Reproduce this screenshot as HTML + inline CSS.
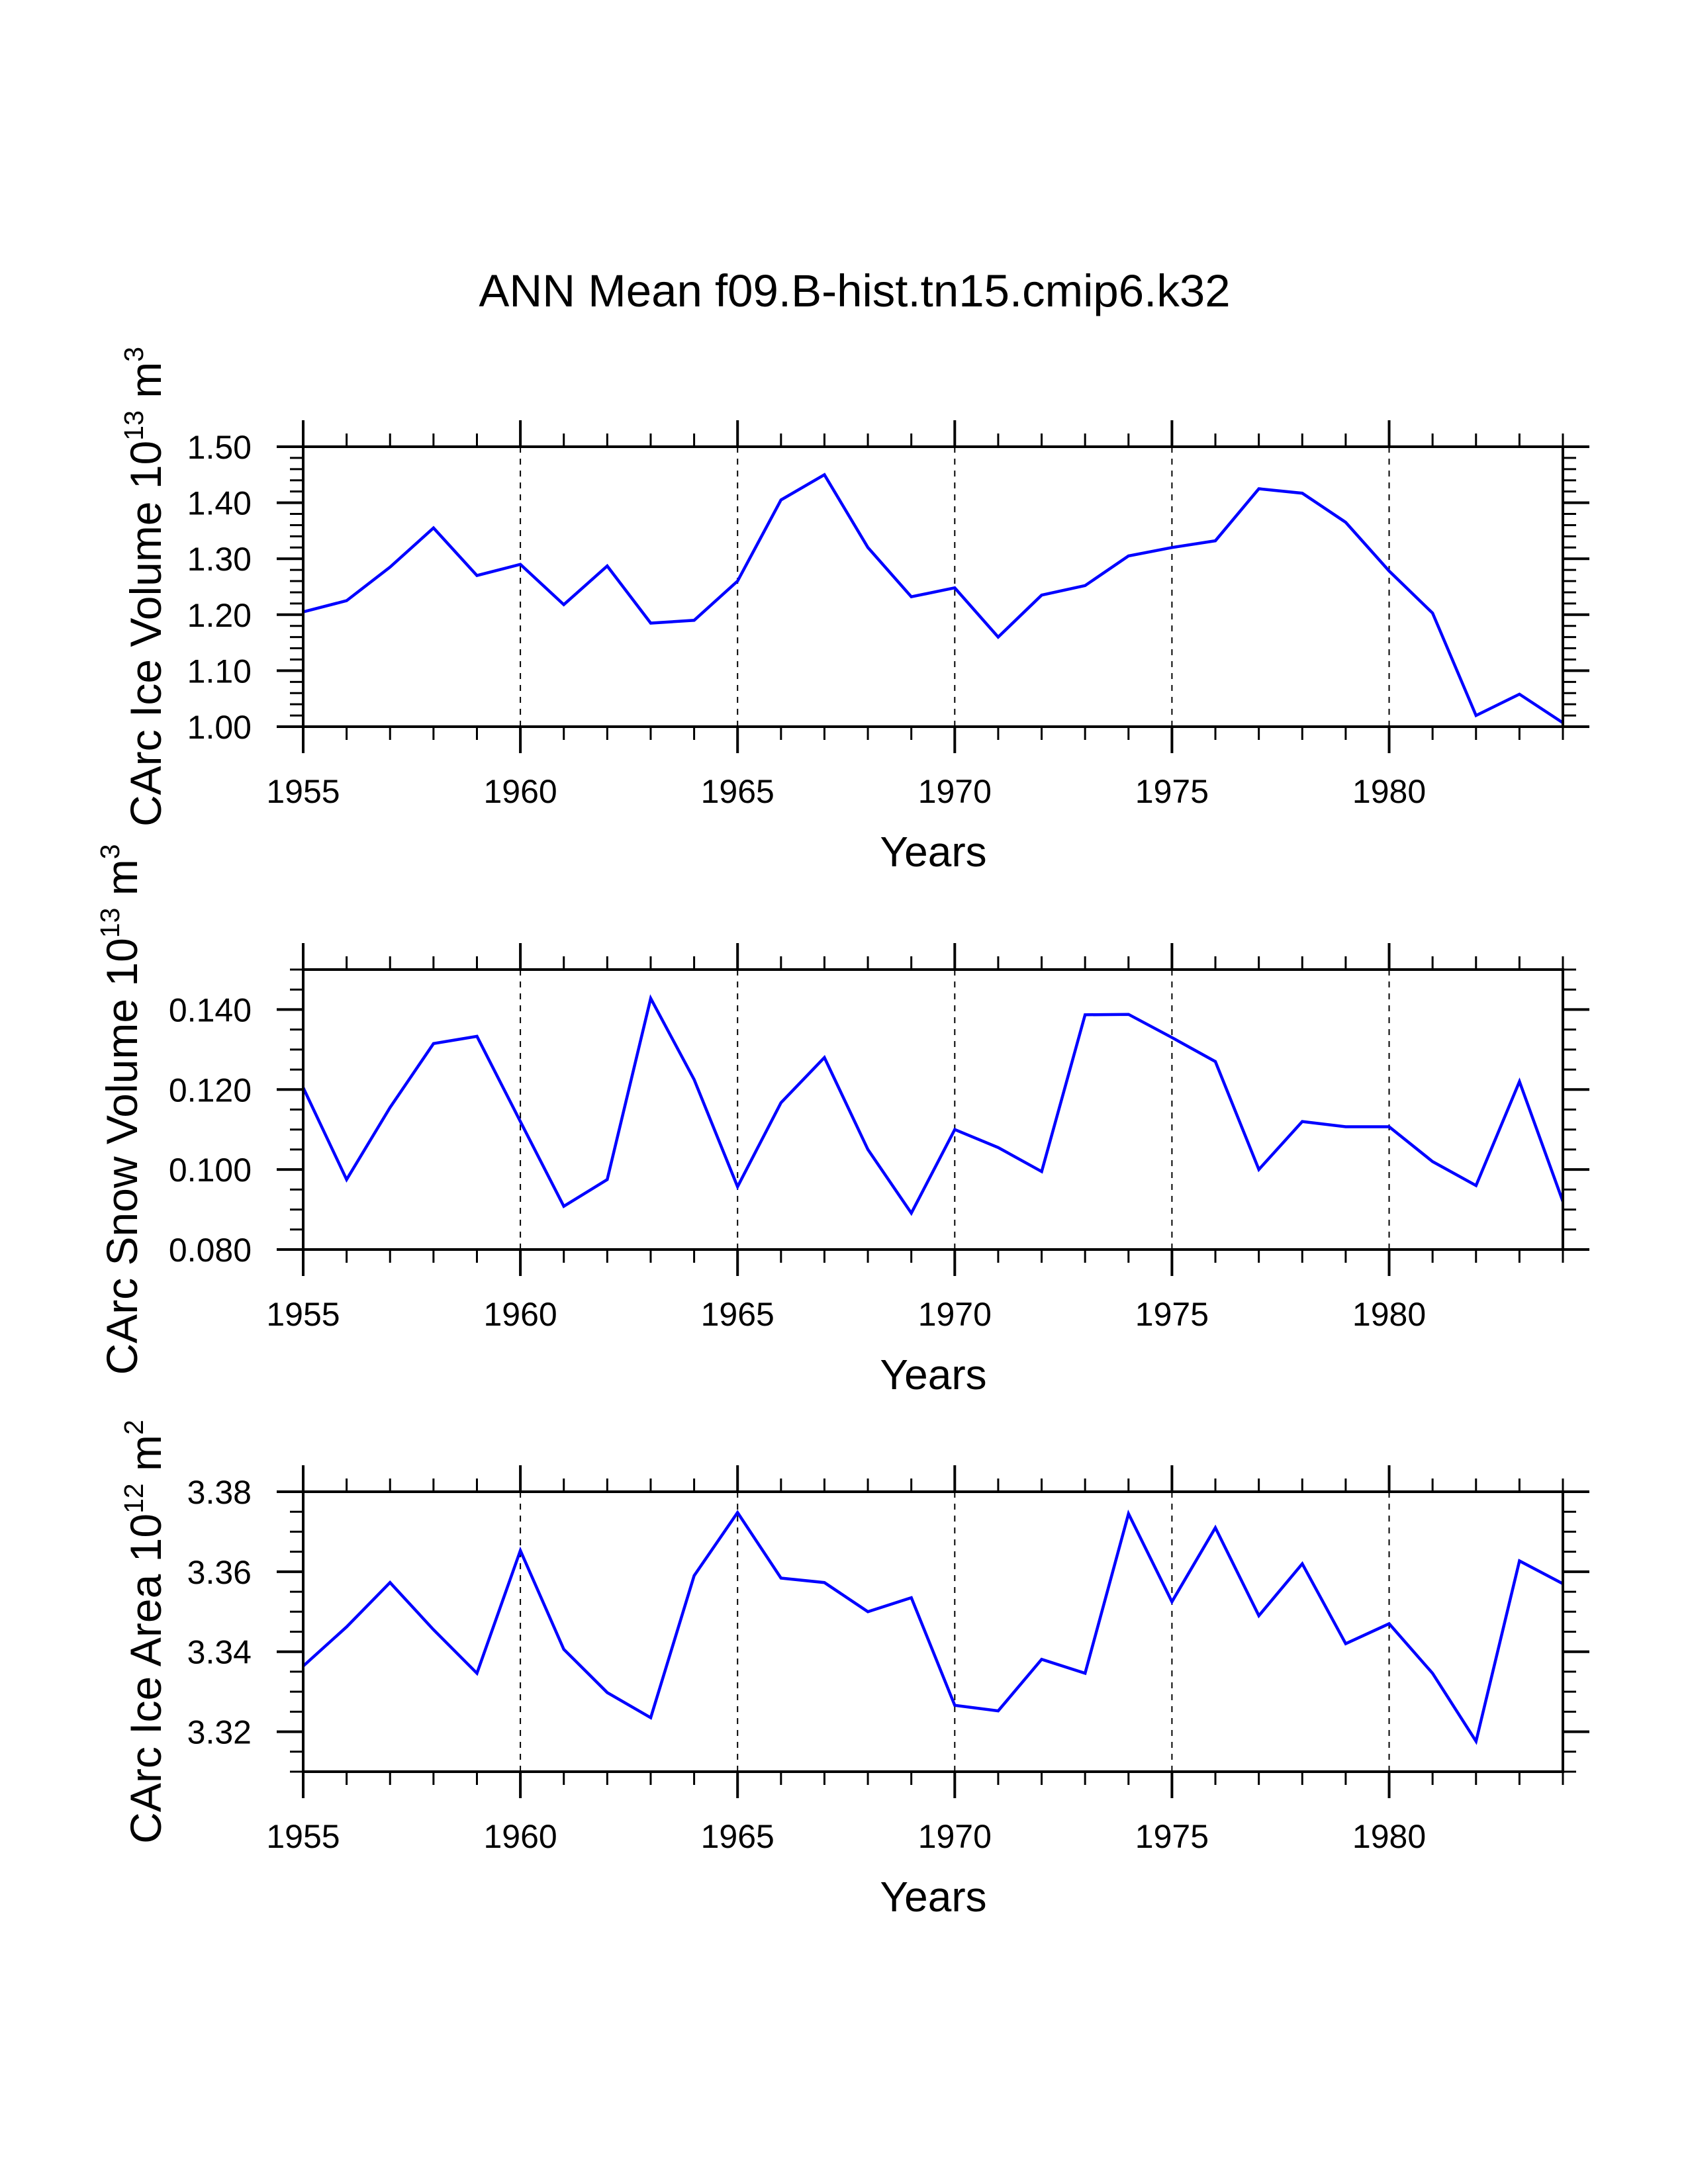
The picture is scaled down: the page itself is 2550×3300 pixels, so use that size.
<!DOCTYPE html>
<html><head><meta charset="utf-8"><style>
html,body{margin:0;padding:0;background:#fff}
svg{display:block}
text{font-family:"Liberation Sans",Arial,sans-serif;fill:#000}
</style></head><body>
<svg id="chart" width="2550" height="3300" viewBox="0 0 2550 3300" xmlns="http://www.w3.org/2000/svg">
<rect width="2550" height="3300" fill="#fff"/>
<text x="1291" y="463" font-size="69" text-anchor="middle">ANN Mean f09.B-hist.tn15.cmip6.k32</text>
</svg>
<script>
const years = [1955,1956,1957,1958,1959,1960,1961,1962,1963,1964,1965,1966,1967,1968,1969,1970,1971,1972,1973,1974,1975,1976,1977,1978,1979,1980,1981,1982,1983,1984];
const iceVolume = [1.205,1.225,1.285,1.355,1.27,1.29,1.218,1.287,1.185,1.19,1.26,1.405,1.45,1.32,1.232,1.248,1.16,1.235,1.252,1.305,1.32,1.332,1.425,1.417,1.365,1.278,1.203,1.02,1.058,1.007];
const snowVolume = [0.1205,0.0975,0.1155,0.1315,0.1333,0.112,0.0908,0.0975,0.1428,0.1225,0.0957,0.1167,0.128,0.105,0.0891,0.110,0.1055,0.0995,0.1387,0.1388,0.133,0.127,0.100,0.112,0.1107,0.1107,0.102,0.096,0.122,0.092];
const iceArea = [3.3364,3.3462,3.3573,3.3455,3.3346,3.3653,3.3406,3.3298,3.3235,3.359,3.3748,3.3584,3.3573,3.35,3.3535,3.3266,3.3252,3.3381,3.3346,3.3745,3.3525,3.371,3.349,3.362,3.342,3.347,3.3346,3.3176,3.3627,3.357];
const xTickLabels = ["1955","1960","1965","1970","1975","1980"];
const iceVolumeTicks = ["1.00","1.10","1.20","1.30","1.40","1.50"];
const snowVolumeTicks = ["0.080","0.100","0.120","0.140"];
const iceAreaTicks = ["3.32","3.34","3.36","3.38"];

const NS = "http://www.w3.org/2000/svg";
const svg = document.getElementById('chart');
function mk(tag, attrs, parent, txt){
  const e = document.createElementNS(NS, tag);
  for (const k in attrs) e.setAttribute(k, attrs[k]);
  if (txt !== undefined) e.textContent = txt;
  (parent||svg).appendChild(e);
  return e;
}
const X0 = 458, X1 = 2361, XMIN = 1955, XMAX = 1984;
function xs(v){ return X0 + (v - XMIN) / (XMAX - XMIN) * (X1 - X0); }

function panel(name, top, ymin, ymax, major, minor, tickLabels, values, labelParts, labelX){
  const bot = top + 423;
  const g = mk('g', {}, svg);
  
  
  const ys = v => bot - (v - ymin) / (ymax - ymin) * (bot - top);
  for (let yr = 1960; yr <= 1980; yr += 5) {
    const l = mk('line', {x1: xs(yr), x2: xs(yr), y1: top, y2: bot, stroke: '#000', 'stroke-width': 2, 'stroke-dasharray': '9,9'}, g);
    
    
  }
  for (let yr = XMIN; yr <= XMAX; yr++) {
    const isMaj = yr % 5 === 0;
    const len = isMaj ? 40 : 20, w = isMaj ? 4 : 3;
    mk('line', {x1: xs(yr), x2: xs(yr), y1: top, y2: top - len, stroke: '#000', 'stroke-width': w}, g);
    mk('line', {x1: xs(yr), x2: xs(yr), y1: bot, y2: bot + len, stroke: '#000', 'stroke-width': w}, g);
  }
  xTickLabels.forEach(s => {
    const t = mk('text', {x: xs(+s), y: bot + 115, 'font-size': 50, 'text-anchor': 'middle'}, g, s);
    
    
  });
  const nMin = Math.round((ymax - ymin) / minor);
  for (let i = 0; i <= nMin; i++) {
    const v = ymin + i * minor;
    const isMaj = tickLabels.some(s => Math.abs(+s - v) < 1e-6);
    const len = isMaj ? 40 : 20, w = isMaj ? 4 : 3;
    const y = ys(v);
    mk('line', {x1: X0, x2: X0 - len, y1: y, y2: y, stroke: '#000', 'stroke-width': w}, g);
    mk('line', {x1: X1, x2: X1 + len, y1: y, y2: y, stroke: '#000', 'stroke-width': w}, g);
  }
  tickLabels.forEach(s => {
    const t = mk('text', {x: 380, y: ys(+s) + 18, 'font-size': 50, 'text-anchor': 'end'}, g, s);
    
    
  });
  const pts = values.map((v, i) => xs(years[i]).toFixed(1) + ',' + ys(v).toFixed(1)).join(' ');
  const pl = mk('polyline', {points: pts, fill: 'none', stroke: '#0000ff', 'stroke-width': 4.5, 'stroke-linejoin': 'miter'}, g);
  
  
  const fr = mk('rect', {x: X0, y: top, width: X1 - X0, height: bot - top, fill: 'none', stroke: '#000', 'stroke-width': 4}, g);
  
  
  const xt = mk('text', {x: 1410, y: bot + 211, 'font-size': 64, 'text-anchor': 'middle'}, g, 'Years');
  
  
  const cy = (top + bot) / 2;
  const yt = mk('text', {x: 0, y: 0, 'font-size': 66, 'text-anchor': 'middle', transform: 'translate(' + labelX + ',' + cy + ') rotate(-90)'}, g);
  
  
  mk('tspan', {}, yt, labelParts[0]);
  mk('tspan', {dy: -27, 'font-size': 41}, yt, labelParts[1]);
  mk('tspan', {dy: 27}, yt, ' m');
  mk('tspan', {dy: -27, 'font-size': 41}, yt, labelParts[2]);
}
panel('ice-volume', 675, 1.0, 1.5, 0.1, 0.02, iceVolumeTicks, iceVolume, ['CArc Ice Volume 10', '13', '3'], 243);
panel('snow-volume', 1465, 0.08, 0.15, 0.02, 0.005, snowVolumeTicks, snowVolume, ['CArc Snow Volume 10', '13', '3'], 207);
panel('ice-area', 2254, 3.31, 3.38, 0.02, 0.005, iceAreaTicks, iceArea, ['CArc Ice Area 10', '12', '2'], 243);
</script>
</body></html>
